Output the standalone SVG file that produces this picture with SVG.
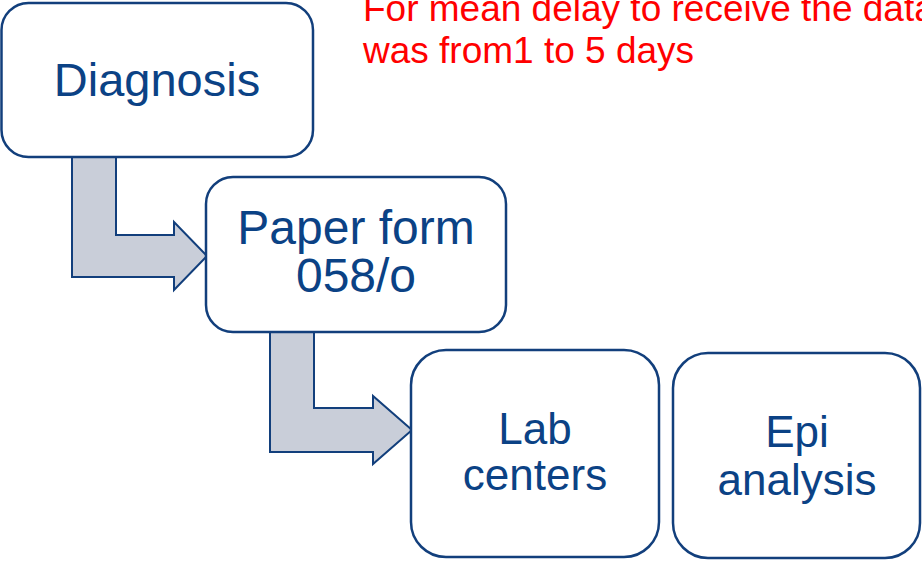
<svg xmlns="http://www.w3.org/2000/svg" width="922" height="561" viewBox="0 0 922 561">
<style>
.box{fill:#ffffff;stroke:#123f7c;stroke-width:2.5}
.arr{fill:#c9ced9;stroke:#123f7c;stroke-width:2}
.lbl{font-family:"Liberation Sans",Arial,sans-serif;fill:#0b4285;text-anchor:middle}
.note{font-family:"Liberation Sans",Arial,sans-serif;fill:#ff0000;font-size:37px}
</style>
<rect width="922" height="561" fill="#ffffff"/>
<g id="connectors">
<path class="arr" d="M72,157 L116,157 L116,235 L174,235 L174,222 L207,256 L174,290 L174,277 L72,277 Z"/>
<path class="arr" d="M270,332 L314,332 L314,408 L373,408 L373,396 L412,430 L373,464 L373,452 L270,452 Z"/>
</g>
<g id="diagnosis">
<rect class="box" x="1.5" y="3" width="311.5" height="154" rx="27"/>
<text class="lbl" x="157" y="96" font-size="47">Diagnosis</text>
</g>
<g id="paper-form">
<rect class="box" x="206" y="177" width="300" height="155" rx="27"/>
<text class="lbl" x="356" y="244" font-size="48">Paper form</text>
<text class="lbl" x="356" y="292" font-size="48">058/o</text>
</g>
<g id="lab-centers">
<rect class="box" x="411" y="350" width="248" height="207" rx="35"/>
<text class="lbl" x="535" y="444" font-size="44">Lab</text>
<text class="lbl" x="535" y="490" font-size="44">centers</text>
</g>
<g id="epi-analysis">
<rect class="box" x="673" y="353" width="247" height="205" rx="35"/>
<text class="lbl" x="797" y="447" font-size="44">Epi</text>
<text class="lbl" x="797" y="495" font-size="44">analysis</text>
</g>
<g id="note">
<text class="note" x="363" y="21">For mean delay to receive the data</text>
<text class="note" x="363" y="63">was from1 to 5 days</text>
</g>
</svg>
